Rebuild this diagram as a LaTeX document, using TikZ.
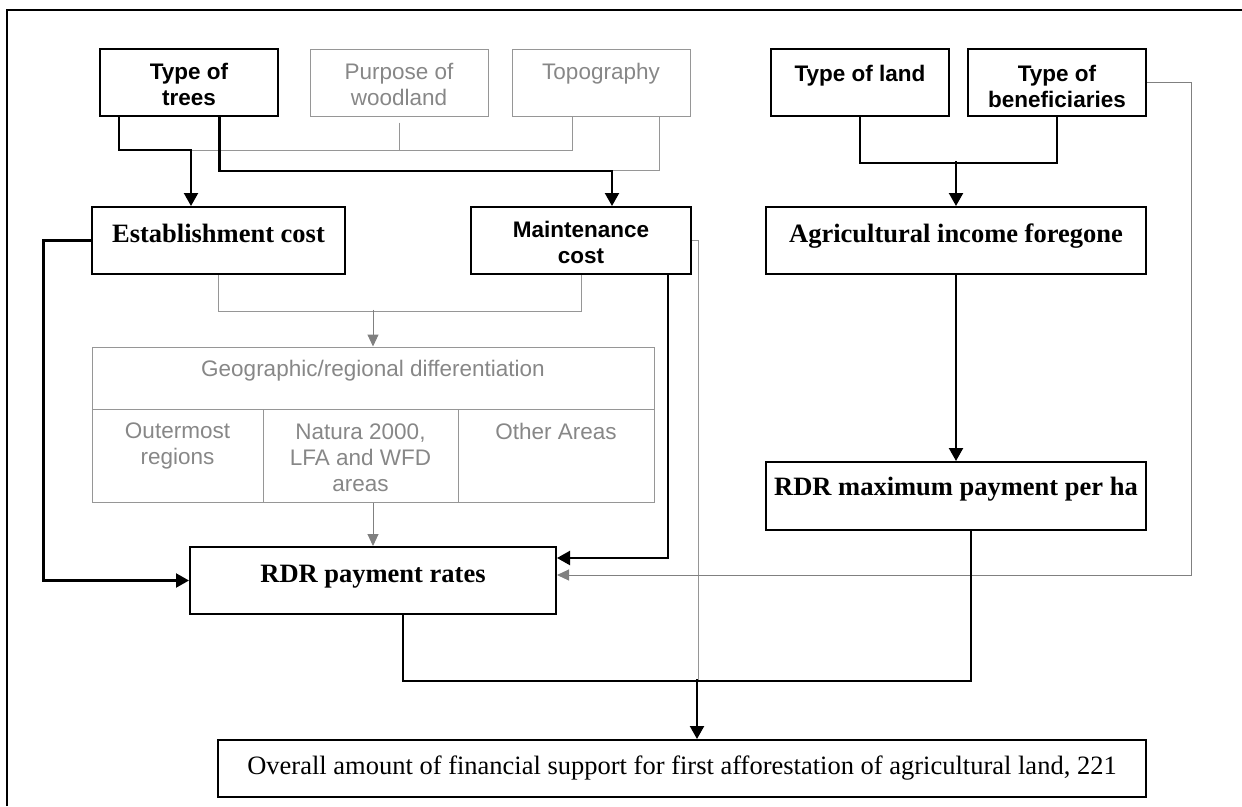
\documentclass[tikz,border=0pt]{standalone}
\usepackage{fontspec}
\setmainfont{Liberation Serif}
\setsansfont{Liberation Sans}
\usetikzlibrary{arrows.meta}

\definecolor{boxgrey}{RGB}{150,150,150}
\definecolor{txtgrey}{RGB}{135,135,135}
\definecolor{arrowgrey}{RGB}{128,128,128}

\tikzset{
    thickbox/.style={draw=black, line width=2pt, rectangle, inner sep=0pt},
    greybox/.style={draw=boxgrey, line width=1pt, rectangle, inner sep=0pt},
    sanstxt/.style={font=\sffamily\bfseries\fontsize{22.5}{26}\selectfont, align=center, inner sep=0pt, anchor=north},
    greytxt/.style={font=\sffamily\fontsize{22.5}{26}\selectfont, text=txtgrey, align=center, inner sep=0pt, anchor=north},
    seriftxt/.style={font=\fontsize{26.5}{30}\selectfont, inner sep=0pt, anchor=base},
    thickline/.style={line width=2.2pt},
    link/.style={line width=2.2pt, -{Triangle[length=13pt,width=14pt]}},
    greyline/.style={line width=1pt, draw=boxgrey},
    greyarrow/.style={line width=1pt, draw=arrowgrey, -{Triangle[length=12pt,width=11pt]}}
}

\begin{document}
\begin{tikzpicture}[x=1pt, y=-1pt]

    \useasboundingbox (0,0) rectangle (1242,806);
    \draw[line width=2pt] (7,806) -- (7,10) -- (1242,10); %marco

    %cajas de arriba
    \node[thickbox, minimum width=178pt, minimum height=67pt] (trees) at (189,82.5) {};
    \node[greybox, minimum width=178pt, minimum height=67pt] (purpose) at (399,82.5) {};
    \node[greybox, minimum width=178pt, minimum height=67pt] (topo) at (601,82.5) {};
    \node[thickbox, minimum width=178pt, minimum height=67pt] (land) at (860,82.5) {};
    \node[thickbox, minimum width=178pt, minimum height=67pt] (benef) at (1057,82.5) {};

    \node[sanstxt] (treestxt) at ([yshift=-15pt]trees.north) {Type of\\trees};
    \node[greytxt] (purposetxt) at ([yshift=-14.5pt]purpose.north) {Purpose of\\woodland};
    \node[greytxt] (topotxt) at ([yshift=-14.5pt]topo.north) {Topography};
    \node[sanstxt] (landtxt) at ([yshift=-16.5pt]land.north) {Type of land};
    \node[sanstxt] (beneftxt) at ([yshift=-16.5pt]benef.north) {Type of\\beneficiaries};

    %costes
    \node[thickbox, minimum width=253pt, minimum height=67pt] (estab) at (218.5,240.5) {};
    \node[thickbox, minimum width=220pt, minimum height=67pt] (maint) at (581,240.5) {};
    \node[thickbox, minimum width=380pt, minimum height=67pt] (agri) at (956,240.5) {};

    \node[seriftxt, font=\bfseries\fontsize{26.5}{30}\selectfont] (estabtxt) at ([yshift=-36pt]estab.north) {Establishment cost};
    \node[sanstxt] (mainttxt) at ([yshift=-15.4pt]maint.north) {Maintenance\\cost};
    \node[seriftxt, font=\bfseries\fontsize{26.5}{30}\selectfont] (agritxt) at ([yshift=-36pt]agri.north) {Agricultural income foregone};

    %diferenciacion regional
    \node[greybox, minimum width=562pt, minimum height=62pt] (geotop) at (373,378) {};
    \node[greybox, minimum width=171pt, minimum height=93pt] (outer) at (177.5,455.5) {};
    \node[greybox, minimum width=195pt, minimum height=93pt] (natura) at (360.5,455.5) {};
    \node[greybox, minimum width=196pt, minimum height=93pt] (other) at (556,455.5) {};

    \node[greytxt] (geotoptxt) at ([yshift=-13.3pt]geotop.north) {Geographic/regional differentiation};
    \node[greytxt] (outertxt) at ([yshift=-14.3pt]outer.north) {Outermost\\regions};
    \node[greytxt] (naturatxt) at ([yshift=-14.9pt]natura.north) {Natura 2000,\\LFA and WFD\\areas};
    \node[greytxt] (othertxt) at ([yshift=-14.5pt]other.north) {Other Areas};

    %pagos
    \node[thickbox, minimum width=380pt, minimum height=68pt] (rdrmax) at (956,496) {};
    \node[thickbox, minimum width=366pt, minimum height=67pt] (rates) at (373,580.5) {};
    \node[thickbox, minimum width=928pt, minimum height=57pt] (overall) at (682,768.5) {};

    \node[seriftxt, font=\bfseries\fontsize{26.5}{30}\selectfont] (rdrmaxtxt) at ([yshift=-34pt]rdrmax.north) {RDR maximum payment per ha};
    \node[seriftxt, font=\bfseries\fontsize{26.5}{30}\selectfont] (ratestxt) at ([yshift=-36pt]rates.north) {RDR payment rates};
    \node[seriftxt] (overalltxt) at ([yshift=-35pt]overall.north) {Overall amount of financial support for first afforestation of agricultural land, 221};

    %lineas grises
    \draw[greyline] ([yshift=-6pt]purpose.south) -- ++(0,28);
    \draw[greyline] ([xshift=-29pt]topo.south) -- ++(0,34) -- ++(-381,0);
    \draw[greyline] ([xshift=58pt]topo.south) -- ++(0,54) -- ++(-47,0);
    \draw[greyline] (estab.south) -- ++(0,36) -| (maint.south);
    \draw[greyarrow] ([yshift=37pt]geotop.north) -- (geotop.north);
    \draw[greyarrow] (natura.south -| rates.north) -- (rates.north);
    \draw[greyline] (maint.east) -- ++(6,0) -- ++(0,439.5);
    \draw[greyarrow] (benef.east) -- ++(44,0) |- ([yshift=5.5pt]rates.east);

    %lineas negras
    \draw[link] ([xshift=20pt]trees.south west) -- ++(0,33) -| ([xshift=-27.5pt]estab.north);
    \draw[link] ([xshift=30.5pt]trees.south) -- ++(0,54) -| ([xshift=31pt]maint.north);
    \draw[thickline] (land.south) -- ++(0,46) -| (benef.south);
    \draw[link] ([yshift=45pt]agri.north) -- (agri.north);
    \draw[link] (agri.south) -- (rdrmax.north);
    \draw[link] (estab.west) -- ++(-47.5,0) |- (rates.west);
    \draw[link] ([xshift=-24pt]maint.south east) |- ([yshift=22.5pt]rates.east);
    \draw[thickline] ([xshift=30pt]rates.south) -- ++(0,66) -| ([xshift=15pt]rdrmax.south);
    \draw[link] ([xshift=15pt,yshift=60pt]overall.north) -- ([xshift=15pt]overall.north);

\end{tikzpicture}
\end{document}
